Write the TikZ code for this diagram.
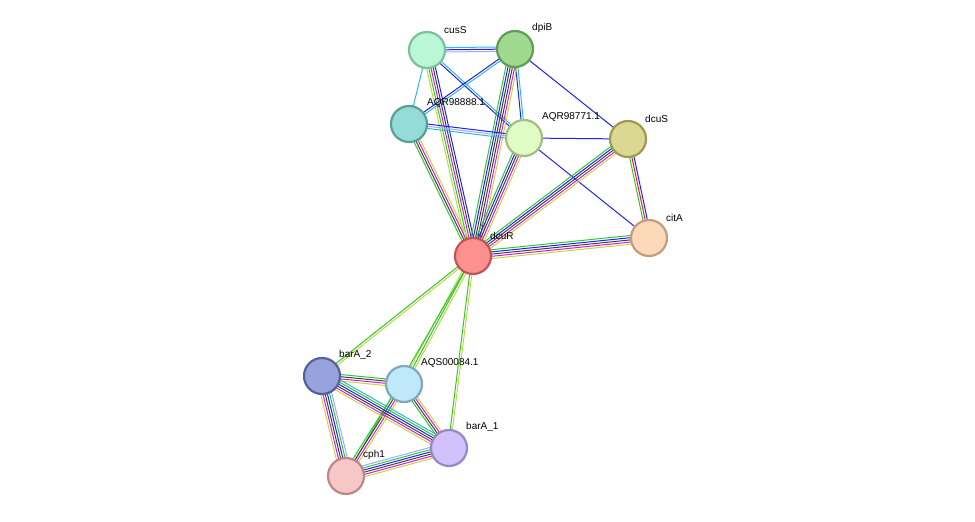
\documentclass[tikz,border=0pt]{standalone}
\usepackage{fontspec}
\setmainfont{Liberation Sans}
\usetikzlibrary{calc}
\definecolor{grn}{HTML}{2DC82D}
\definecolor{blu}{HTML}{2020F0}
\definecolor{cya}{HTML}{30B8D8}
\definecolor{mag}{HTML}{D020D0}
\definecolor{blk}{HTML}{404040}
\definecolor{tm}{HTML}{C0D840}
\definecolor{hom}{HTML}{A0A8FF}
\definecolor{fus}{HTML}{E82020}
\definecolor{f1}{HTML}{B9F7D5}\definecolor{d1}{HTML}{7FBF9C}
\definecolor{f2}{HTML}{9ED98F}\definecolor{d2}{HTML}{5F9E55}
\definecolor{f3}{HTML}{96DCD6}\definecolor{d3}{HTML}{5A9E99}
\definecolor{f4}{HTML}{E1FBC5}\definecolor{d4}{HTML}{A2BD86}
\definecolor{f5}{HTML}{DAD892}\definecolor{d5}{HTML}{9D9A53}
\definecolor{f6}{HTML}{FCD9B8}\definecolor{d6}{HTML}{C39D81}
\definecolor{f7}{HTML}{FE9090}\definecolor{d7}{HTML}{C05555}
\definecolor{f8}{HTML}{98A3DD}\definecolor{d8}{HTML}{56609A}
\definecolor{f9}{HTML}{C0E8FB}\definecolor{d9}{HTML}{7FA8BD}
\definecolor{f10}{HTML}{D3C1FB}\definecolor{d10}{HTML}{9986C7}
\definecolor{f11}{HTML}{F6C7C6}\definecolor{d11}{HTML}{BB8888}
\newcommand\bund[4]{\foreach[count=\i] \c in {#4}{%
  \pgfmathsetmacro\o{(\i-(#3+1)/2)*2.2}%
  \draw[\c,line width=1pt] ($(#1.center)!\o pt!90:(#2.center)$) -- ($(#2.center)!\o pt!-90:(#1.center)$);}}
\begin{document}
\begin{tikzpicture}[x=1pt,y=-1pt,
  nd/.style={circle,minimum size=36pt,inner sep=0pt,line width=2.2pt},
  lb/.style={font=\fontsize{10}{12}\selectfont,anchor=south west,inner sep=1pt}]
\useasboundingbox (0,0) rectangle (975,522);
\coordinate (cusS) at (427,50);
\coordinate (dpiB) at (515,49);
\coordinate (A888) at (409,124);
\coordinate (A771) at (524,138);
\coordinate (dcuS) at (628,139);
\coordinate (citA) at (649,238);
\coordinate (dcuR) at (473,256);
\coordinate (barA2) at (322,376);
\coordinate (AQS) at (404,384);
\coordinate (barA1) at (449,448);
\coordinate (cph1) at (346,476);
\bund{cusS}{dpiB}{3}{hom,blu,cya}
\bund{cusS}{A888}{1}{cya}
\bund{cusS}{A771}{2}{blu,cya}
\bund{cusS}{dcuR}{5}{tm,grn,mag,blk,blu}
\bund{dpiB}{A888}{2}{blu,cya}
\bund{dpiB}{A771}{2}{blu,cya}
\bund{dpiB}{dcuS}{1}{blu}
\bund{dpiB}{dcuR}{6}{grn,blu,blk,blk,mag,tm}
\bund{A888}{A771}{3}{cya,hom,blu}
\bund{A888}{dcuR}{4}{grn,blk,mag,tm}
\bund{A771}{dcuR}{5}{grn,blu,blk,mag,tm}
\bund{A771}{dcuS}{1}{blu}
\bund{A771}{citA}{1}{blu}
\bund{dcuS}{dcuR}{5}{grn,blu,blk,mag,tm}
\bund{dcuS}{citA}{3}{grn,fus,blu}
\bund{citA}{dcuR}{5}{grn,blu,blk,mag,tm}
\bund{dcuR}{barA2}{2}{grn,tm}
\bund{dcuR}{AQS}{3}{tm,grn,tm}
\bund{dcuR}{barA1}{2}{grn,tm}
\bund{dcuR}{cph1}{1}{grn}
\bund{cph1}{AQS}{4}{tm,mag,blk,grn}
\bund{barA2}{AQS}{4}{tm,mag,blk,grn}
\bund{barA2}{barA1}{6}{tm,mag,blk,blu,grn,cya}
\bund{barA2}{cph1}{6}{tm,mag,blk,blu,grn,hom}
\bund{AQS}{barA1}{4}{grn,blk,mag,tm}
\bund{cph1}{barA1}{6}{tm,mag,blk,blu,grn,hom}
\node[nd,fill=f1,draw=d1] (n1) at (cusS) {};
\node[nd,fill=f2,draw=d2] (n2) at (dpiB) {};
\node[nd,fill=f3,draw=d3] (n3) at (A888) {};
\node[nd,fill=f4,draw=d4] (n4) at (A771) {};
\node[nd,fill=f5,draw=d5] (n5) at (dcuS) {};
\node[nd,fill=f6,draw=d6] (n6) at (citA) {};
\node[nd,fill=f7,draw=d7] (n7) at (dcuR) {};
\node[nd,fill=f8,draw=d8] (n8) at (barA2) {};
\node[nd,fill=f9,draw=d9] (n9) at (AQS) {};
\node[nd,fill=f10,draw=d10] (n10) at (barA1) {};
\node[nd,fill=f11,draw=d11] (n11) at (cph1) {};
\node[lb] at (443,35) {cusS};
\node[lb] at (531,34) {dpiB};
\node[lb] at (426,109) {AQR98888.1};
\node[lb] at (541,123) {AQR98771.1};
\node[lb] at (644,124) {dcuS};
\node[lb] at (665,223) {citA};
\node[lb] at (489,241) {dcuR};
\node[lb] at (338,361) {barA\_2};
\node[lb] at (420,369) {AQS00084.1};
\node[lb] at (465,433) {barA\_1};
\node[lb] at (362,461) {cph1};
\end{tikzpicture}
\end{document}
